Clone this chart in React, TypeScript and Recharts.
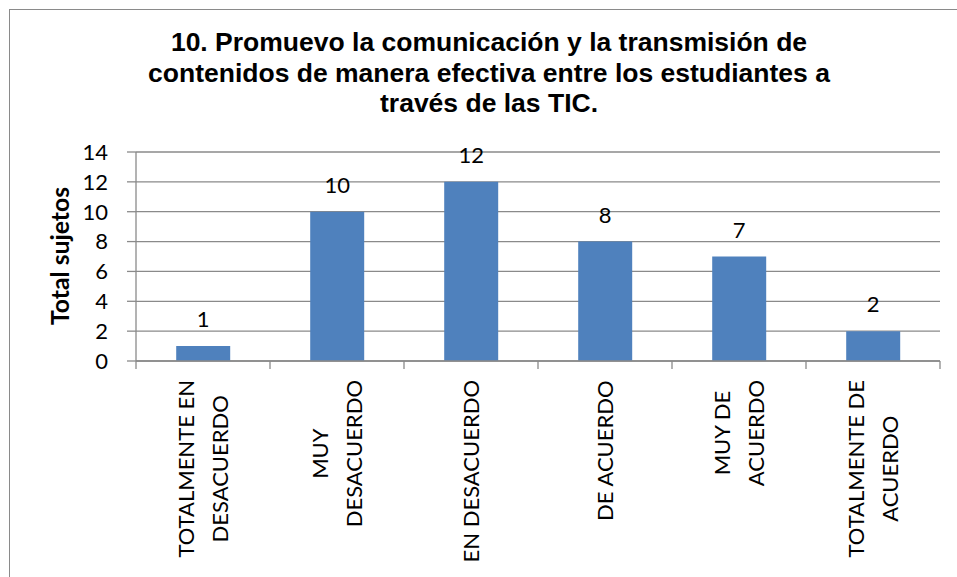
import React from 'react';
import { BarChart, Bar, XAxis, YAxis, CartesianGrid, LabelList } from 'recharts';

const categories = ['TOTALMENTE EN DESACUERDO', 'MUY DESACUERDO', 'EN DESACUERDO', 'DE ACUERDO', 'MUY DE ACUERDO', 'TOTALMENTE DE ACUERDO'];
const categoryLines = [
  ['TOTALMENTE EN', 'DESACUERDO'],
  ['MUY', 'DESACUERDO'],
  ['EN DESACUERDO'],
  ['DE ACUERDO'],
  ['MUY DE', 'ACUERDO'],
  ['TOTALMENTE DE', 'ACUERDO'],
];
const values = [1, 10, 12, 8, 7, 2];
const yTicks = [0, 2, 4, 6, 8, 10, 12, 14];
const titleLines = [
  '10. Promuevo la comunicación y la transmisión de',
  'contenidos de manera efectiva entre los estudiantes a',
  'través de las TIC.',
];
const yAxisTitle = 'Total sujetos';

const data = categories.map((c, i) => ({ name: c, value: values[i] }));

const W = 957;
const H = 577;
const M_TOP = 152;
const M_RIGHT = 17;
const Y_W = 136;
const X_H = 216;
const PLOT_W = W - Y_W - M_RIGHT;
const PLOT_BOTTOM = H - X_H;
const GRAY = '#8a8a8a';
const FONT = 'Lato, "Noto Sans", sans-serif';
const FS = 22;

let ctx: CanvasRenderingContext2D | null = null;
function measure(text: string, font: string): number {
  if (!ctx) ctx = document.createElement('canvas').getContext('2d');
  if (!ctx) return text.length * 12;
  ctx.font = font;
  return ctx.measureText(text).width;
}

const CatTick = (props: any) => {
  const { x, payload, index } = props;
  const idx = categories.indexOf(payload.value);
  const lines = categoryLines[idx >= 0 ? idx : index] || [String(payload.value)];
  const band = PLOT_W / categories.length;
  const font = `${FS}px Lato`;
  const maxLen = Math.max(...lines.map((l) => measure(l, font)));
  const top = PLOT_BOTTOM + 19;
  const yc = top + maxLen / 2;
  const capH = FS * 0.72;
  const n = lines.length;
  return (
    <g>
      <line x1={x - band / 2} x2={x - band / 2} y1={PLOT_BOTTOM} y2={PLOT_BOTTOM + 8} stroke={GRAY} strokeWidth={1.3} />
      {idx === categories.length - 1 && (
        <line x1={x + band / 2} x2={x + band / 2} y1={PLOT_BOTTOM} y2={PLOT_BOTTOM + 8} stroke={GRAY} strokeWidth={1.3} />
      )}
      {lines.map((l, i) => {
        const gx = x + (i - (n - 1) / 2) * 34;
        const bx = gx + capH / 2;
        return (
          <text
            key={i}
            transform={`translate(${bx}, ${yc}) rotate(-90)`}
            textAnchor="middle"
            fontFamily={FONT}
            fontSize={FS}
            fill="#000"
          >
            {l}
          </text>
        );
      })}
    </g>
  );
};

export default function App() {
  return (
    <div style={{ position: 'absolute', left: 0, top: 0, width: W, height: H, overflow: 'hidden', background: '#fff' }}>
      <div
        style={{
          position: 'absolute',
          left: 9,
          top: 9,
          width: 1200,
          height: 1200,
          border: `1.5px solid ${GRAY}`,
          boxSizing: 'border-box',
        }}
      />
      <div style={{ position: 'absolute', left: 0, top: 0 }}>
        <BarChart
          width={W}
          height={H}
          data={data}
          margin={{ top: M_TOP, right: M_RIGHT, bottom: 0, left: 0 }}
          barCategoryGap="30%"
        >
          <CartesianGrid vertical={false} stroke={GRAY} strokeWidth={1.3} />
          <XAxis
            dataKey="name"
            type="category"
            height={X_H}
            interval={0}
            tickLine={false}
            axisLine={{ stroke: GRAY, strokeWidth: 1.3 }}
            tick={<CatTick />}
          />
          <YAxis
            type="number"
            domain={[0, 14]}
            ticks={yTicks}
            width={Y_W}
            tickSize={9}
            tickMargin={19}
            tickLine={{ stroke: GRAY, strokeWidth: 1.3 }}
            axisLine={{ stroke: GRAY, strokeWidth: 1.3 }}
            tick={{ fill: '#000', fontSize: FS, fontFamily: FONT }}
            interval={0}
          />
          <Bar dataKey="value" fill="#4F81BD" isAnimationActive={false}>
            <LabelList dataKey="value" position="top" offset={19} fill="#000" fontSize={FS} fontFamily={FONT} />
          </Bar>
        </BarChart>
      </div>
      <svg width={W} height={H} style={{ position: 'absolute', left: 0, top: 0, pointerEvents: 'none' }}>
        {titleLines.map((t, i) => (
          <text
            key={i}
            x={489}
            y={51 + i * 30.7}
            textAnchor="middle"
            fontFamily='"Liberation Sans", Arial, sans-serif'
            fontWeight="bold"
            fontSize={26.5}
            fill="#000"
          >
            {t}
          </text>
        ))}
        <text
          transform="translate(69, 256) rotate(-90)"
          textAnchor="middle"
          fontFamily={FONT}
          fontWeight="bold"
          fontSize={24}
          textLength={138}
          lengthAdjust="spacingAndGlyphs"
          fill="#000"
        >
          {yAxisTitle}
        </text>
      </svg>
    </div>
  );
}
